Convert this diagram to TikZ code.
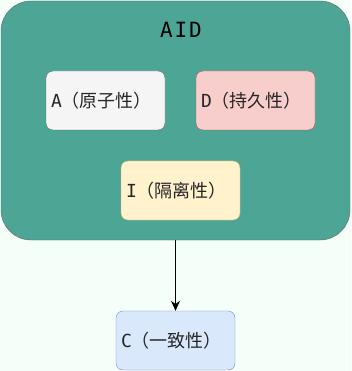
\documentclass[tikz,border=0pt]{standalone}
\usepackage{fontspec}
\setmonofont{DejaVu Sans Mono}
\newfontfamily\cjk{Noto Sans CJK SC}
\newfontfamily\titlefont[LetterSpace=9]{DejaVu Sans Mono}
\usetikzlibrary{positioning,arrows.meta}

\definecolor{bgmint}{HTML}{F5FFF9}
\definecolor{tealfill}{HTML}{4DA595}
\definecolor{grayfill}{HTML}{F5F5F5}
\definecolor{graydraw}{HTML}{666666}
\definecolor{redfill}{HTML}{F8CECC}
\definecolor{reddraw}{HTML}{B85450}
\definecolor{yellowfill}{HTML}{FFF2CC}
\definecolor{yellowdraw}{HTML}{D6B656}
\definecolor{bluefill}{HTML}{DAE8FC}
\definecolor{bluedraw}{HTML}{6C8EBF}

\begin{document}
\begin{tikzpicture}[
    x=1pt, y=-1pt,
    prop/.style={rectangle, rounded corners=7pt, draw, minimum width=119pt, minimum height=59pt, inner sep=0pt, text width=109pt, align=left, font=\fontsize{18}{21}\selectfont\ttfamily, text=black!85},
    group/.style={rectangle, rounded corners=30pt, draw=graydraw, fill=tealfill, minimum width=349pt, minimum height=239pt, inner sep=0pt},
    title/.style={font=\fontsize{21}{25}\selectfont\titlefont},
    arrow/.style={-{Stealth[length=10pt, width=9pt]}, line width=1.2pt},
]

% ================== Background ==================
\fill[bgmint] (0,0) rectangle (351,371);

% ================== AID group ==================
\node[group] (aid) at (175.5, 120.5) {};
\node[title] (aidTitle) at (181, 30) {AID};

\node[prop, fill=grayfill, draw=graydraw] (atom) at (105.5, 100.5) {A{\cjk（原子性）}};
\node[prop, fill=redfill, draw=reddraw] (dur) at (255.5, 100.5) {D{\cjk（持久性）}};
\node[prop, fill=yellowfill, draw=yellowdraw] (iso) at (180.5, 190.5) {I{\cjk（隔离性）}};

% ================== Consistency ==================
\node[prop, fill=bluefill, draw=bluedraw] (cons) at (175.5, 340.5) {C{\cjk（一致性）}};

\draw[arrow] (aid) -- (cons);

\end{tikzpicture}
\end{document}
